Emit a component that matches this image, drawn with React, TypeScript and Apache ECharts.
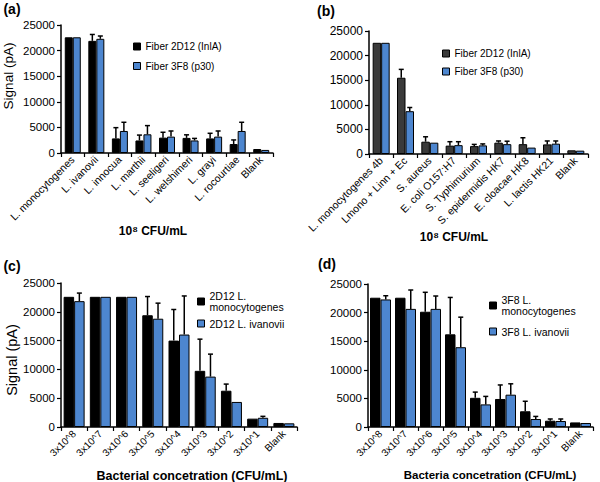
import React, { useEffect, useRef } from "react";
import * as echarts from "echarts";

const FONT = '"Liberation Sans", Arial, Helvetica, sans-serif';
const BLUE = "#4d86cf";

// Panel (a)
const catsA = ["L. monocytogenes", "L. ivanovii", "L. innocua", "L. marthii", "L. seeligeri", "L. welshimeri", "L. grayi", "L. rocourtiae", "Blank"];
const a2D12 = [22600, 21900, 2850, 2450, 3000, 2950, 2850, 1750, 780];
const a2D12Err = [0, 1250, 2100, 1050, 1050, 600, 1000, 800, 0];
const a3F8 = [22600, 22300, 4300, 3650, 3200, 2450, 3200, 4300, 600];
const a3F8Err = [0, 550, 1700, 1700, 1100, 400, 1100, 1700, 0];

// Panel (b)
const catsB = ["L. monocytogenes 4b", "Lmono + Linn + Ec", "S. aureus", "E. coli O157:H7", "S. Typhimurium", "S. epidermidis HK7", "E. cloacae HK8", "L. lactis HK21", "Blank"];
const b2D12 = [22600, 15500, 2500, 1700, 1600, 2300, 2000, 1950, 750];
const b2D12Err = [0, 1700, 1000, 800, 350, 350, 1300, 700, 0];
const b3F8 = [22600, 8700, 2300, 1800, 1750, 2000, 1300, 2100, 680];
const b3F8Err = [0, 750, 0, 700, 300, 600, 0, 550, 0];

// Panels (c) and (d)
const catsCD = ["3x10^8", "3x10^7", "3x10^6", "3x10^5", "3x10^4", "3x10^3", "3x10^2", "3x10^1", "Blank"];
const cMono = [22600, 22600, 22600, 19400, 15000, 9750, 6300, 1450, 700];
const cMonoErr = [0, 0, 0, 3250, 5400, 5500, 1150, 0, 0];
const cIvan = [21850, 22600, 22600, 18800, 16050, 8750, 4350, 1600, 640];
const cIvanErr = [1400, 0, 0, 2700, 6700, 3900, 0, 250, 0];
const dMono = [22600, 22600, 20150, 16200, 5100, 4900, 2750, 1100, 800];
const dMonoErr = [0, 0, 3400, 6450, 1000, 2450, 1750, 300, 0];
const dIvan = [22300, 20650, 20650, 13950, 3950, 5650, 1400, 1050, 700];
const dIvanErr = [650, 3300, 2250, 5250, 1400, 1900, 450, 350, 0];

const yTicks = { min: 0, max: 25000, interval: 5000 };

function errRender(offset: number) {
  return (params: any, api: any) => {
    const e = api.value(2);
    if (!e) return null;
    const i = api.value(0);
    const v = api.value(1);
    const c0 = api.coord([i, v]);
    const c1 = api.coord([i, v + e]);
    const x = c0[0] + offset;
    const st = { stroke: "#000", lineWidth: 1.5 };
    return {
      type: "group",
      children: [
        { type: "line", shape: { x1: x, y1: c0[1], x2: x, y2: c1[1] }, style: st },
        { type: "line", shape: { x1: x - 2.5, y1: c1[1], x2: x + 2.5, y2: c1[1] }, style: st },
      ],
    };
  };
}

interface PanelCfg {
  cats: string[];
  n1: string; v1: number[]; e1: number[]; c1: string;
  n2: string; v2: number[]; e2: number[];
  grid: any; barW: number; ySize: number; xSize: number;
}

function buildPanel(idx: number, p: PanelCfg) {
  const xAxis = {
    type: "category", gridIndex: idx, data: p.cats,
    axisLine: { lineStyle: { color: "#000", width: 1.5 } },
    axisTick: { show: true, inside: false, length: 4, lineStyle: { color: "#000", width: 1.2 } },
    axisLabel: { rotate: 45, interval: 0, margin: 5, color: "#000", fontSize: p.xSize, fontFamily: FONT },
  };
  const yAxis = {
    type: "value", gridIndex: idx, ...yTicks,
    splitLine: { show: false },
    axisLine: { show: true, lineStyle: { color: "#000", width: 1.5 } },
    axisTick: { show: true, inside: false, length: 4, lineStyle: { color: "#000", width: 1.2 } },
    axisLabel: { margin: 6, color: "#000", fontSize: p.ySize, fontFamily: FONT, formatter: (v: number) => String(v) },
  };
  const series = [
    { type: "bar", name: p.n1, xAxisIndex: idx, yAxisIndex: idx, data: p.v1, barWidth: p.barW, barGap: "0%",
      itemStyle: { color: p.c1, borderColor: "#000", borderWidth: 1 } },
    { type: "bar", name: p.n2, xAxisIndex: idx, yAxisIndex: idx, data: p.v2, barWidth: p.barW, barGap: "0%",
      itemStyle: { color: BLUE, borderColor: "#000", borderWidth: 1 } },
    { type: "custom", xAxisIndex: idx, yAxisIndex: idx, silent: true, z: 5,
      data: p.v1.map((v, i) => [i, v, p.e1[i]]), encode: { x: 0, y: 1 }, renderItem: errRender(-p.barW / 2) },
    { type: "custom", xAxisIndex: idx, yAxisIndex: idx, silent: true, z: 5,
      data: p.v2.map((v, i) => [i, v, p.e2[i]]), encode: { x: 0, y: 1 }, renderItem: errRender(p.barW / 2) },
  ];
  return { grid: p.grid, xAxis, yAxis, series };
}

function legendFor(left: number, top: number, n1: string, c1: string, n2: string, size: number, gap: number, twoLine: boolean) {
  return {
    left, top, orient: "vertical", padding: 0, itemWidth: 7, itemHeight: 7, itemGap: gap, icon: "rect",
    selectedMode: false,
    textStyle: { fontSize: size, color: "#000", fontFamily: FONT, lineHeight: 11 },
    formatter: (name: string) => name.replace(" L. monocytogenes", " L.\nmonocytogenes"),
    data: [
      { name: n1, itemStyle: { color: c1, borderColor: "#000", borderWidth: 1 },
        textStyle: twoLine ? { padding: [11, 0, 0, 0] } : {} },
      { name: n2, itemStyle: { color: BLUE, borderColor: "#000", borderWidth: 1 } },
    ],
  };
}

function txt(x: number, y: number, text: string, font: string, rotation = 0, align = "center") {
  return { type: "text", x, y, rotation, silent: true,
    style: { text, font, fill: "#000", align, verticalAlign: "middle" } };
}

export default function App() {
  const ref = useRef<HTMLDivElement>(null);
  useEffect(() => {
    if (!ref.current) return;
    const chart = echarts.init(ref.current, null, { renderer: "svg" });
    const panels = [
      buildPanel(0, { cats: catsA, n1: "Fiber 2D12 (InlA)", v1: a2D12, e1: a2D12Err, c1: "#000",
        n2: "Fiber 3F8 (p30)", v2: a3F8, e2: a3F8Err,
        grid: { left: 61, top: 25, width: 212, height: 128 }, barW: 8, ySize: 11.5, xSize: 10.5 }),
      buildPanel(1, { cats: catsB, n1: "Fiber 2D12 (InlA)", v1: b2D12, e1: b2D12Err, c1: "#3a3a3a",
        n2: "Fiber 3F8 (p30)", v2: b3F8, e2: b3F8Err,
        grid: { left: 369, top: 31, width: 219, height: 123 }, barW: 8.5, ySize: 12, xSize: 10.5 }),
      buildPanel(2, { cats: catsCD, n1: "2D12 L. monocytogenes", v1: cMono, e1: cMonoErr, c1: "#000",
        n2: "2D12 L. ivanovii", v2: cIvan, e2: cIvanErr,
        grid: { left: 61, top: 283, width: 236, height: 144 }, barW: 10.5, ySize: 11.5, xSize: 10 }),
      buildPanel(3, { cats: catsCD, n1: "3F8 L. monocytogenes", v1: dMono, e1: dMonoErr, c1: "#000",
        n2: "3F8 L. ivanovii", v2: dIvan, e2: dIvanErr,
        grid: { left: 368, top: 284, width: 225, height: 143 }, barW: 10.5, ySize: 11.5, xSize: 10 }),
    ];
    const option: any = {
      animation: false,
      textStyle: { fontFamily: FONT },
      grid: panels.map((p) => p.grid),
      xAxis: panels.map((p) => p.xAxis),
      yAxis: panels.map((p) => p.yAxis),
      series: panels.flatMap((p) => p.series),
      legend: [
        legendFor(133, 41, "Fiber 2D12 (InlA)", "#000", "Fiber 3F8 (p30)", 10, 8.5, false),
        legendFor(442, 48, "Fiber 2D12 (InlA)", "#3a3a3a", "Fiber 3F8 (p30)", 10, 7, false),
        legendFor(197, 285, "2D12 L. monocytogenes", "#000", "2D12 L. ivanovii", 10.5, 0, true),
        legendFor(489, 289, "3F8 L. monocytogenes", "#000", "3F8 L. ivanovii", 10.5, 4, true),
      ],
      graphic: [
        txt(12, 9, "(a)", `bold 14px ${FONT}`),
        txt(326, 11, "(b)", `bold 14px ${FONT}`),
        txt(12, 266, "(c)", `bold 14px ${FONT}`),
        txt(327, 264, "(d)", `bold 14px ${FONT}`),
        txt(153, 231, "10⁸ CFU/mL", `bold 12px ${FONT}`),
        txt(454, 237, "10⁸ CFU/mL", `bold 12px ${FONT}`),
        txt(192, 476, "Bacterial concetration (CFU/mL)", `bold 12.5px ${FONT}`),
        txt(490, 475, "Bacteria concetration (CFU/mL)", `bold 11.5px ${FONT}`),
        txt(8, 76, "Signal (pA)", `13.5px ${FONT}`, Math.PI / 2),
        txt(12, 360, "Signal (pA)", `14.5px ${FONT}`, Math.PI / 2),
      ],
    };
    chart.setOption(option);
    return () => chart.dispose();
  }, []);
  return <div ref={ref} style={{ position: "absolute", left: 0, top: 0, width: 600, height: 482, background: "#fff" }} />;
}
